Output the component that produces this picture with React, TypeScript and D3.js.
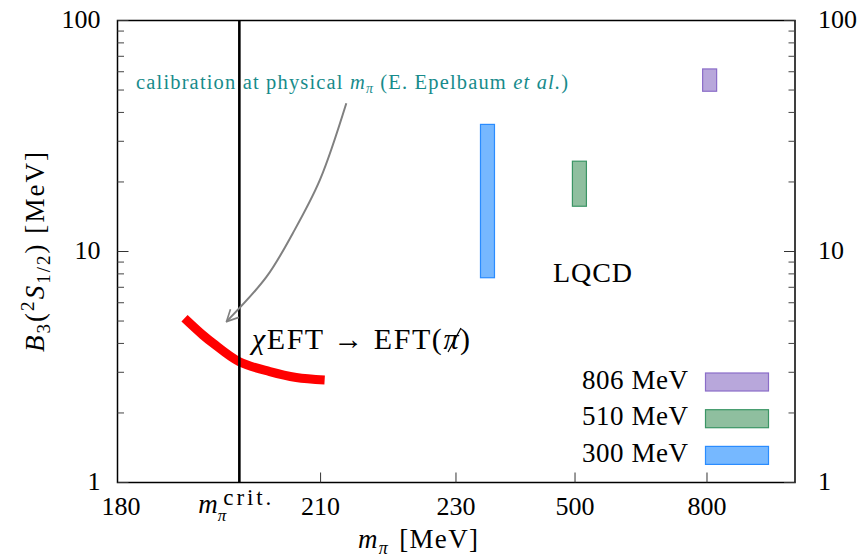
import React from 'react';
import * as d3 from 'd3';

// x axis is broken: linear 180..230, then compressed LQCD section
const xBreaks = [180, 230, 300, 500, 800, 1000];
const xTickValues = [210, 230, 500, 800];
const xTickLabels = ['180', '210', '230', '500', '800'];
const xLabelValues = [180, 210, 230, 500, 800];
const yMajor = [1, 10, 100];
const yMinor = [2, 3, 4, 5, 6, 7, 8, 9, 20, 30, 40, 50, 60, 70, 80, 90];
const mPiCrit = 198;

// chiEFT -> EFT(pionless) band
const chiMpi = [189.9, 192.6, 194.1, 198.0, 202.5, 206.4, 210.6];
const chiB3 = [5.14, 4.35, 4.01, 3.33, 3.02, 2.85, 2.78];

// annotation arrow
const arrowMpi = [213.8, 209.9, 205.9, 202.0, 196.1];
const arrowB3 = [43.8, 20.4, 12.0, 7.76, 4.97];

// LQCD results
const lqcdLabels = ['806 MeV', '510 MeV', '300 MeV'];
const lqcdMpi = [806, 510, 300];
const lqcdLow = [49.4, 15.7, 7.7];
const lqcdHigh = [61.7, 24.6, 35.5];
const lqcdFill = ['#b8a7db', '#8fbf9f', '#76b8ff'];
const lqcdStroke = ['#8a6dc8', '#3b9565', '#2a8cff'];

const W = 861;
const H = 557;
const margin = { top: 20.5, right: 66, bottom: 74.5, left: 117.5 };
const font = '"Liberation Serif", "DejaVu Serif", serif';

export default function App() {
  const x0 = margin.left;
  const x1 = W - margin.right;
  const y0 = margin.top;
  const y1 = H - margin.bottom;

  const w = x1 - x0;
  const xScale = d3
    .scaleLinear()
    .domain(xBreaks)
    .range([0, 0.4996, 0.5461, 0.6753, 0.8701, 1].map((f) => x0 + f * w));
  const yScale = d3.scaleLog().domain([1, 100]).range([y1, y0]);

  const chiLine = d3
    .line<number>()
    .x((d, i) => xScale(chiMpi[i]))
    .y((d) => yScale(d))
    .curve(d3.curveCatmullRom);
  const arrowLine = d3
    .line<number>()
    .x((d, i) => xScale(arrowMpi[i]))
    .y((d) => yScale(d))
    .curve(d3.curveCatmullRom);

  const barW = 14;

  return (
    <svg
      width={W}
      height={H}
      style={{ position: 'absolute', left: 0, top: 0, background: '#fff' }}
      fontFamily={font}
    >
      <defs>
        <marker
          id="head"
          viewBox="0 0 12 12"
          refX="11"
          refY="6"
          markerWidth="7"
          markerHeight="7"
          orient="auto"
          markerUnits="strokeWidth"
        >
          <path d="M1,1 L11,6 L1,11" fill="none" stroke="#808080" strokeWidth="1.4" />
        </marker>
      </defs>

      {/* LQCD boxes */}
      {lqcdMpi.map((m, i) => (
        <rect
          key={m}
          x={xScale(m) - barW / 2}
          width={barW}
          y={yScale(lqcdHigh[i])}
          height={yScale(lqcdLow[i]) - yScale(lqcdHigh[i])}
          fill={lqcdFill[i]}
          stroke={lqcdStroke[i]}
          strokeWidth={1.2}
        />
      ))}

      {/* chiEFT band */}
      <path
        d={chiLine(chiB3) || ''}
        fill="none"
        stroke="#ff0000"
        strokeWidth={9}
        strokeLinejoin="round"
      />

      {/* critical pion mass */}
      <line
        x1={xScale(mPiCrit)}
        x2={xScale(mPiCrit)}
        y1={y0}
        y2={y1}
        stroke="#000"
        strokeWidth={2.6}
      />

      {/* arrow */}
      <path
        d={arrowLine(arrowB3) || ''}
        fill="none"
        stroke="#808080"
        strokeWidth={2}
        markerEnd="url(#head)"
      />

      {/* frame */}
      <rect x={x0} y={y0} width={w} height={y1 - y0} fill="none" stroke="#000" strokeWidth={1.5} />

      {/* y ticks */}
      {yMajor.map((v) => (
        <g key={'M' + v}>
          <line x1={x0} x2={x0 + 11} y1={yScale(v)} y2={yScale(v)} stroke="#333" strokeWidth={1} />
          <line x1={x1} x2={x1 - 11} y1={yScale(v)} y2={yScale(v)} stroke="#333" strokeWidth={1} />
          <text x={x0 - 17} y={yScale(v) + 7} textAnchor="end" fontSize={26}>
            {v}
          </text>
          <text x={x1 + 23} y={yScale(v) + 7} textAnchor="start" fontSize={26}>
            {v}
          </text>
        </g>
      ))}
      {yMinor.map((v) => (
        <g key={'m' + v}>
          <line x1={x0} x2={x0 + 6.5} y1={yScale(v)} y2={yScale(v)} stroke="#444" strokeWidth={1} />
          <line x1={x1} x2={x1 - 6.5} y1={yScale(v)} y2={yScale(v)} stroke="#444" strokeWidth={1} />
        </g>
      ))}

      {/* x ticks */}
      {xTickValues.map((v) => (
        <line key={v} x1={xScale(v)} x2={xScale(v)} y1={y1} y2={y1 - 10} stroke="#333" strokeWidth={1} />
      ))}
      {xLabelValues.map((v, i) => (
        <text key={v} x={xScale(v) + (i === 0 ? 3.5 : 0)} y={y1 + 32.5} textAnchor="middle" fontSize={26}>
          {xTickLabels[i]}
        </text>
      ))}
      <text x={xScale(mPiCrit) - 41} y={y1 + 30.5} fontSize={27}>
        <tspan fontStyle="italic">m</tspan>
        <tspan fontSize={17} fontStyle="italic" dy={8}>π</tspan>
      </text>
      <text x={xScale(mPiCrit) - 16} y={y1 + 22} fontSize={23} textLength={48} lengthAdjust="spacing">
        crit.
      </text>

      {/* axis titles */}
      <text x={358} y={H - 9} fontSize={27} textLength={120} lengthAdjust="spacing">
        <tspan fontStyle="italic">m</tspan>
        <tspan fontSize={18} fontStyle="italic" dy={6}>π</tspan>
        <tspan dx={10} dy={-6}>[MeV]</tspan>
      </text>
      <text
        transform="translate(44,252) rotate(-90)"
        textAnchor="middle"
        fontSize={27}
        textLength={200}
        lengthAdjust="spacing"
      >
        <tspan fontStyle="italic">B</tspan>
        <tspan fontSize={19} dy={6}>3</tspan>
        <tspan dy={-6}>(</tspan>
        <tspan fontSize={19} dy={-10}>2</tspan>
        <tspan fontStyle="italic" dy={10}>S</tspan>
        <tspan fontSize={19} dy={6}>1/2</tspan>
        <tspan dy={-6}>) [MeV]</tspan>
      </text>

      {/* annotations */}
      <text x={136} y={89} fontSize={20.5} fill="#178b8b" textLength={432} lengthAdjust="spacing">
        calibration at physical <tspan fontStyle="italic">m</tspan>
        <tspan fontStyle="italic" fontSize={14} dy={4}>π</tspan>
        <tspan dy={-4}> (E. Epelbaum </tspan>
        <tspan fontStyle="italic">et al.</tspan>)
      </text>
      <text x={252} y={349} fontSize={30} textLength={218} lengthAdjust="spacing">
        <tspan fontStyle="italic">χ</tspan>EFT → EFT(<tspan fontStyle="italic">π</tspan>)
      </text>
      {/* slash through pi */}
      <line x1={448} y1={352} x2={461} y2={328} stroke="#000" strokeWidth={1.3} />
      <text x={553} y={282} fontSize={28} textLength={79} lengthAdjust="spacing">
        LQCD
      </text>

      {/* legend */}
      {lqcdLabels.map((lab, i) => (
        <g key={lab} transform={`translate(0, ${i * 36.7})`}>
          <text x={582} y={388.5} fontSize={27} textLength={106} lengthAdjust="spacing">
            {lab}
          </text>
          <rect x={705.5} y={373} width={63} height={18} fill={lqcdFill[i]} stroke={lqcdStroke[i]} strokeWidth={1.2} />
        </g>
      ))}
    </svg>
  );
}
